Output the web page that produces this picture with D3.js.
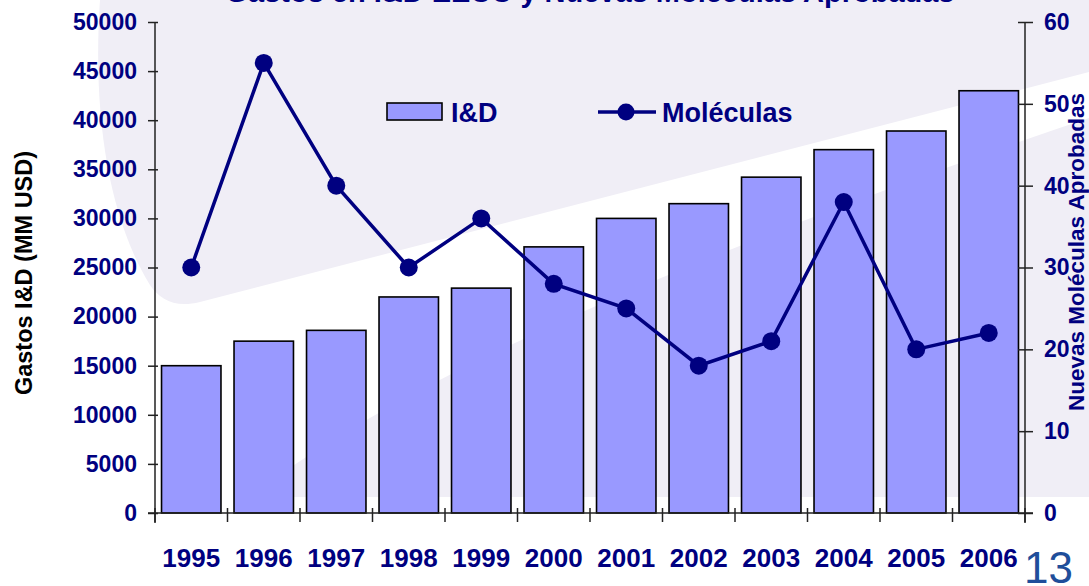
<!DOCTYPE html>
<html>
<head>
<meta charset="utf-8">
<script src="https://cdn.jsdelivr.net/npm/d3@7"></script>
<style>
  body { margin: 0; background: #fff; }
  svg { display: block; font-family: "Liberation Sans", Arial, sans-serif; }
  .axis path, .axis line { stroke: #222; stroke-width: 1.5px; }
  .axis text { fill: #000080; font-weight: bold; }
</style>
</head>
<body>
<div id="chart"></div>
<script>
const years     = ["1995", "1996", "1997", "1998", "1999", "2000", "2001", "2002", "2003", "2004", "2005", "2006"];
const gastos    = [15000, 17500, 18600, 22000, 22900, 27100, 30000, 31500, 34200, 37000, 38900, 43000];
const moleculas = [30, 55, 40, 30, 36, 28, 25, 18, 21, 38, 20, 22];
const leftTicks  = [0, 5000, 10000, 15000, 20000, 25000, 30000, 35000, 40000, 45000, 50000];
const rightTicks = [0, 10, 20, 30, 40, 50, 60];

const W = 1089, H = 586;
const plotL = 155, plotR = 1025, plotT = 22, plotB = 513;

const svg = d3.select("#chart").append("svg")
  .attr("width", W).attr("height", H);

// BACKGROUND (slide-like lavender shapes with a white swoosh between them)
svg.append("path")
  .attr("d", "M100,0 L1089,0 L1089,72 L200,302 C175,308 160,300 150,285 C110,220 92,120 100,0 Z")
  .attr("fill", "#F0EEF6");
svg.append("path")
  .attr("d", "M1089,118 L1089,497 L250,497 C400,380 700,250 1089,118 Z")
  .attr("fill", "#F0EEF6");

const x = d3.scaleBand().domain(years).range([plotL, plotR])
  .paddingInner(0.18).paddingOuter(0.09);
const yL = d3.scaleLinear().domain([0, 50000]).range([plotB, plotT]);
const yR = d3.scaleLinear().domain([0, 60]).range([plotB, plotT]);

// BARS
svg.append("g").selectAll("rect")
  .data(gastos)
  .enter()
  .append("rect")
  .attr("x", (d, i) => x(years[i]))
  .attr("y", (d) => yL(d))
  .attr("width", x.bandwidth())
  .attr("height", (d) => yL(0) - yL(d))
  .attr("fill", "#9999FF")
  .attr("stroke", "#000")
  .attr("stroke-width", 1.6);

// AXES
const gL = svg.append("g").attr("class", "axis")
  .attr("transform", `translate(${plotL},0)`)
  .call(d3.axisLeft(yL).tickValues(leftTicks).tickSize(7).tickPadding(11).tickFormat(d3.format("d")));
gL.selectAll("text").style("font-size", "23px");
gL.select(".domain").attr("d", `M0,${plotT}V${plotB + 10}`);
gL.selectAll(".tick line").attr("x2", -7).attr("x1", 3);

const gR = svg.append("g").attr("class", "axis")
  .attr("transform", `translate(${plotR},0)`)
  .call(d3.axisRight(yR).tickValues(rightTicks).tickSize(8).tickPadding(11));
gR.selectAll("text").style("font-size", "23px");
gR.select(".domain").attr("d", `M0,${plotT}V${plotB + 10}`);
gR.selectAll(".tick line").attr("x1", -7);

// category axis: ticks on band boundaries
const step = x.step();
svg.append("line").attr("x1", plotL - 7).attr("x2", plotR + 8)
  .attr("y1", plotB).attr("y2", plotB)
  .attr("stroke", "#222").attr("stroke-width", 1.5);
svg.append("g").selectAll("line")
  .data(d3.range(years.length + 1))
  .enter()
  .append("line")
  .attr("x1", (d) => plotL + d * step).attr("x2", (d) => plotL + d * step)
  .attr("y1", plotB - 5).attr("y2", plotB + 9)
  .attr("stroke", "#222").attr("stroke-width", 1.5);
svg.append("g").selectAll("text")
  .data(years)
  .enter()
  .append("text")
  .attr("x", (d) => x(d) + x.bandwidth() / 2)
  .attr("y", 567)
  .attr("text-anchor", "middle")
  .attr("fill", "#000080")
  .style("font-size", "26px")
  .style("font-weight", "bold")
  .text((d) => d);

// LINE
const line = d3.line()
  .x((d, i) => x(years[i]) + x.bandwidth() / 2)
  .y((d) => yR(d));
svg.append("path").datum(moleculas)
  .attr("d", line)
  .attr("fill", "none")
  .attr("stroke", "#000080")
  .attr("stroke-width", 3.5);
svg.append("g").selectAll("circle")
  .data(moleculas)
  .enter()
  .append("circle")
  .attr("cx", (d, i) => x(years[i]) + x.bandwidth() / 2)
  .attr("cy", (d) => yR(d))
  .attr("r", 9)
  .attr("fill", "#000080");

// AXIS TITLES
svg.append("text")
  .attr("transform", "translate(32,273) rotate(-90)")
  .attr("text-anchor", "middle")
  .attr("fill", "#000")
  .style("font-size", "23.5px").style("font-weight", "bold")
  .text("Gastos I&D (MM USD)");
svg.append("text")
  .attr("transform", "translate(1084,252) rotate(-90)")
  .attr("text-anchor", "middle")
  .attr("fill", "#000080")
  .style("font-size", "22.5px").style("font-weight", "bold")
  .text("Nuevas Moléculas Aprobadas");

// TITLE (cut off at the top of the slide)
svg.append("text")
  .attr("x", 590).attr("y", 2)
  .attr("text-anchor", "middle")
  .attr("fill", "#000080")
  .style("font-size", "29px").style("font-weight", "bold")
  .text("Gastos en I&D EEUU y Nuevas Moléculas Aprobadas");

// LEGEND
const legend = svg.append("g");
legend.append("rect")
  .attr("x", 387).attr("y", 103).attr("width", 55).attr("height", 17)
  .attr("fill", "#9999FF").attr("stroke", "#000").attr("stroke-width", 1.6);
legend.append("text")
  .attr("x", 451).attr("y", 122)
  .attr("fill", "#000080")
  .style("font-size", "27px").style("font-weight", "bold")
  .text("I&D");
legend.append("line")
  .attr("x1", 598).attr("x2", 656).attr("y1", 112).attr("y2", 112)
  .attr("stroke", "#000080").attr("stroke-width", 3.5);
legend.append("circle")
  .attr("cx", 626).attr("cy", 112).attr("r", 8.5).attr("fill", "#000080");
legend.append("text")
  .attr("x", 662).attr("y", 122)
  .attr("fill", "#000080")
  .style("font-size", "27px").style("font-weight", "bold")
  .text("Moléculas");

// PAGE NUMBER
svg.append("text")
  .attr("x", 1024).attr("y", 583)
  .attr("fill", "#1F4E9A")
  .style("font-size", "44px")
  .text("13");
</script>
</body>
</html>
